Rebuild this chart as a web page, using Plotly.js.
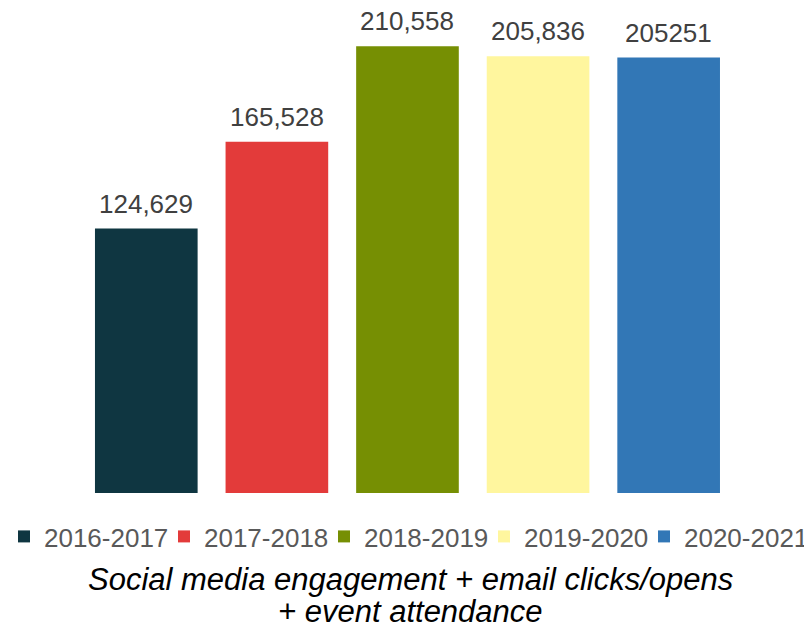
<!DOCTYPE html>
<html>
<head>
<meta charset="utf-8">
<script src="https://cdn.plot.ly/plotly-3.0.1.min.js"></script>
<style>html,body{margin:0;padding:0;background:#fff;}#chart{width:811px;height:629px;}</style>
</head>
<body>
<div id="chart"></div>
<script>
const years = ["2016-2017", "2017-2018", "2018-2019", "2019-2020", "2020-2021"];
const values = [124629, 165528, 210558, 205836, 205251];
const labels = ["124,629", "165,528", "210,558", "205,836", "205251"];
const colors = ["#0f3641", "#e33b3a", "#768f03", "#fff69e", "#3277b6"];
const titleLines = ["Social media engagement + email clicks/opens", "+ event attendance"];

const FONT = '"Liberation Sans", Arial, sans-serif';

const traces = years.map((y, i) => ({
  type: 'bar',
  name: y,
  x: [y],
  y: [values[i]],
  marker: {color: colors[i]},
  hoverinfo: 'skip'
}));

const annotations = years.map((y, i) => ({
  x: y, y: values[i], xref: 'x', yref: 'y',
  text: labels[i], showarrow: false,
  yanchor: 'bottom', yshift: 8,
  font: {family: FONT, size: 26, color: '#404040'}
}));
titleLines.forEach((t, i) => annotations.push({
  x: 0.4507, y: 0, xref: 'paper', yref: 'paper',
  text: '<i>' + t + '</i>', showarrow: false,
  xanchor: 'center', yanchor: 'middle',
  yshift: -86 - 32 * i,
  font: {family: FONT, size: 31, color: '#000000'}
}));

const layout = {
  width: 811, height: 629,
  margin: {l: 81, r: 0, t: 5, b: 136},
  paper_bgcolor: '#ffffff', plot_bgcolor: '#ffffff',
  barmode: 'overlay',
  bargap: 0.214,
  showlegend: true,
  legend: {
    orientation: 'h', x: -0.1055, xanchor: 'left',
    y: -0.041, yanchor: 'top',
    font: {family: FONT, size: 26, color: '#595959'},
    entrywidth: 115, entrywidthmode: 'pixels',
    traceorder: 'normal', itemclick: false, itemdoubleclick: false
  },
  xaxis: {type: 'category', categoryorder: 'array', categoryarray: years,
          range: [-0.5, 5.09], visible: false, fixedrange: true},
  yaxis: {range: [0, 230000], visible: false, fixedrange: true},
  annotations: annotations
};

Plotly.newPlot('chart', traces, layout, {displayModeBar: false, staticPlot: true});
</script>
</body>
</html>
